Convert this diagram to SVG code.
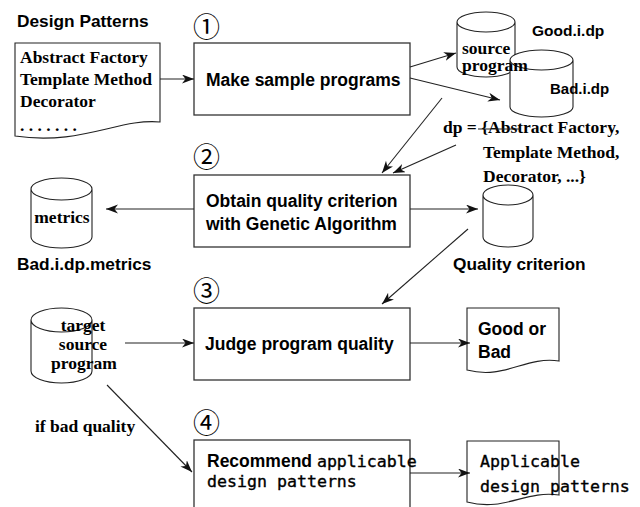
<svg xmlns="http://www.w3.org/2000/svg" width="640" height="507" viewBox="0 0 640 507">
<style>
.box{fill:#fff;stroke:#333;stroke-width:1.3}
.shape{fill:#fff;stroke:#222;stroke-width:1.1}
.sans{font-family:"Liberation Sans",Arial,sans-serif;font-weight:bold;font-size:17.5px;fill:#000}
.lab{font-family:"Liberation Sans",Arial,sans-serif;font-weight:bold;font-size:17.3px;fill:#000}
.serif{font-family:"Liberation Serif","Times New Roman",serif;font-weight:bold;font-size:17.5px;fill:#000}
.mono{font-family:"DejaVu Sans Mono","Liberation Mono",monospace;font-size:16.6px;fill:#000;stroke:#000;stroke-width:0.35}
.num{font-family:"Noto Sans CJK JP","DejaVu Sans",sans-serif;font-size:27px;fill:#000}
.conn{stroke:#222;stroke-width:1.1;fill:none}
</style>
<defs>
<marker id="ah" markerUnits="userSpaceOnUse" markerWidth="14" markerHeight="10" refX="12" refY="4.5" orient="auto">
<path d="M0,0 L12,4.5 L0,9 L3.5,4.5 Z" fill="#111"/>
</marker>
</defs>
<rect width="640" height="507" fill="#fff"/>

<g id="design-patterns">
<text class="lab" x="17" y="27">Design Patterns</text>
<path class="shape" d="M15,43 H160 V122 C120,118 80,146 15,136 Z"/>
<text class="serif" x="20" y="63">Abstract Factory</text>
<text class="serif" x="20" y="85">Template Method</text>
<text class="serif" x="20" y="107">Decorator</text>
<text class="serif" x="20" y="131">. . . . . . .</text>
</g>

<g id="step1">
<text class="num" x="193" y="37">①</text>
<rect class="box" x="194" y="43" width="216" height="72"/>
<text class="sans" x="206" y="86">Make sample programs</text>
</g>

<g id="good-source">
<path class="shape" d="M457,22 V67 A29,10 0 0 0 515,67 V22 A29,10 0 0 0 457,22 A29,10 0 0 0 515,22"/>
<text class="lab" x="532" y="36" style="font-size:15.5px">Good.i.dp</text>
</g>

<g id="bad-source">
<path class="shape" d="M510,60 V107 A31.5,10 0 0 0 573,107 V60 A31.5,10 0 0 0 510,60 A31.5,10 0 0 0 573,60"/>
<text class="serif" x="462" y="54">source</text>
<text class="serif" x="462" y="71">program</text>
<text class="lab" x="550" y="94" style="font-size:15px">Bad.i.dp</text>
</g>

<g id="dp-set">
<text class="serif" x="443" y="133">dp = {Abstract Factory,</text>
<line x1="478" y1="129" x2="520" y2="129" stroke="#222" stroke-width="1"/>
<text class="serif" x="483" y="158">Template Method,</text>
<text class="serif" x="483" y="182">Decorator, ...}</text>
</g>

<g id="step2">
<text class="num" x="193" y="167">②</text>
<rect class="box" x="194" y="175" width="216" height="72"/>
<text class="sans" x="206" y="207">Obtain quality criterion</text>
<text class="sans" x="206" y="230">with Genetic Algorithm</text>
</g>

<g id="metrics">
<path class="shape" d="M31,189 V237 A30.5,11 0 0 0 92,237 V189 A30.5,11 0 0 0 31,189 A30.5,11 0 0 0 92,189"/>
<text class="serif" x="62" y="223" text-anchor="middle">metrics</text>
<text class="lab" x="17" y="270">Bad.i.dp.metrics</text>
</g>

<g id="quality-criterion">
<path class="shape" d="M483,195 V237 A25,10 0 0 0 533,237 V195 A25,10 0 0 0 483,195 A25,10 0 0 0 533,195"/>
<text class="lab" x="453" y="270">Quality criterion</text>
</g>

<g id="target">
<path class="shape" d="M31,320 V371 A30.5,12 0 0 0 92,371 V320 A30.5,12 0 0 0 31,320 A30.5,12 0 0 0 92,320"/>
<text class="serif" x="83" y="331" text-anchor="middle">target</text>
<text class="serif" x="83" y="350" text-anchor="middle">source</text>
<text class="serif" x="84" y="369" text-anchor="middle">program</text>
</g>

<g id="step3">
<text class="num" x="193" y="301">③</text>
<rect class="box" x="194" y="308" width="216" height="72"/>
<text class="sans" x="205" y="350">Judge program quality</text>
</g>

<g id="good-or-bad">
<path class="shape" d="M467,308 H559 V361 C525,356 505,380 467,370 Z"/>
<text class="sans" x="478" y="335">Good or</text>
<text class="sans" x="478" y="358">Bad</text>
</g>

<g id="step4">
<text class="num" x="193" y="433">④</text>
<rect class="box" x="194" y="440" width="216" height="80"/>
<text x="207" y="467"><tspan class="sans">Recommend </tspan><tspan class="mono">applicable</tspan></text>
<text class="mono" x="207" y="487">design patterns</text>
</g>

<g id="applicable">
<path class="shape" d="M467,441 H559 V495 C525,490 505,512 467,502 Z"/>
<text class="mono" x="480" y="467">Applicable</text>
<text class="mono" x="480" y="492">design patterns</text>
</g>

<text id="if-bad" class="serif" x="35" y="432">if bad quality</text>

<g id="connectors">
<line class="conn" x1="160" y1="79" x2="194" y2="79" marker-end="url(#ah)"/>
<line class="conn" x1="410" y1="67" x2="456" y2="53" marker-end="url(#ah)"/>
<line class="conn" x1="410" y1="78" x2="500" y2="100" marker-end="url(#ah)"/>
<line class="conn" x1="442" y1="98" x2="382" y2="173" marker-end="url(#ah)"/>
<line class="conn" x1="456" y1="145" x2="393" y2="173" marker-end="url(#ah)"/>
<line class="conn" x1="194" y1="209" x2="106" y2="209" marker-end="url(#ah)"/>
<line class="conn" x1="410" y1="209" x2="478" y2="209" marker-end="url(#ah)"/>
<line class="conn" x1="468" y1="229" x2="382" y2="304" marker-end="url(#ah)"/>
<line class="conn" x1="125" y1="343" x2="194" y2="343" marker-end="url(#ah)"/>
<line class="conn" x1="410" y1="343" x2="470" y2="343" marker-end="url(#ah)"/>
<line class="conn" x1="107" y1="385" x2="192" y2="472" marker-end="url(#ah)"/>
<line class="conn" x1="410" y1="473" x2="470" y2="473" marker-end="url(#ah)"/>
</g>
</svg>
